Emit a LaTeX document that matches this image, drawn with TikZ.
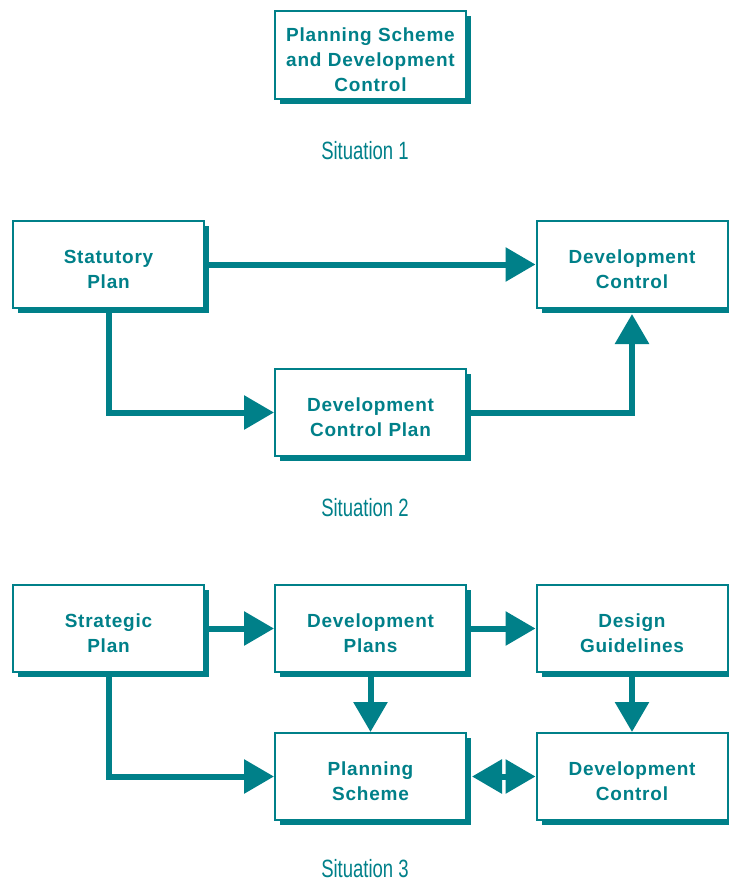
\documentclass[tikz,border=0pt]{standalone}
\usepackage{fontspec}
\usepackage{tikz}
\usetikzlibrary{arrows.meta,shadows}
\newfontfamily\boxfont[LetterSpace=4]{Liberation Sans}
\newfontfamily\sitfont[FakeStretch=0.74]{Liberation Sans}
\definecolor{plteal}{RGB}{0,128,137}
\tikzstyle{box}=[draw=plteal,line width=2pt,fill=white,minimum width=191pt,minimum height=87pt,inner sep=0pt,text width=187pt,align=center,text=plteal,font=\boxfont\bfseries\fontsize{19}{25}\selectfont,execute at begin node={\rule{0pt}{23pt}},drop shadow={shadow xshift=5pt,shadow yshift=-5pt,fill=plteal,opacity=1}]
\tikzstyle{situation}=[text=plteal,font=\sitfont\fontsize{25}{28}\selectfont,inner sep=0pt]
\tikzstyle{flow}=[draw=plteal,line width=6pt,-{Triangle[length=30pt,width=33pt]}]
\tikzstyle{bothways}=[draw=plteal,line width=6pt,{Triangle[length=30pt,width=33pt]}-{Triangle[length=30pt,width=33pt]}]

\begin{document}
\begin{tikzpicture}[x=1pt,y=-1pt]
\useasboundingbox (0,0) rectangle (728,883);
% situation 1
\node[box] (ps1) at (370.5,55) {Planning Scheme\\and Development\\Control};
\node[situation] (sit1) at (365,151) {Situation 1};
% situation 2
\node[box] (sp) at (108.5,264.5) {Statutory\\Plan};
\node[box] (dc2) at (632,264.5) {Development\\Control};
\node[box] (dcp) at (370.5,412.5) {Development\\Control Plan};
\node[situation] (sit2) at (365,508) {Situation 2};
\draw[flow] (sp.east) -- (dc2.west);
\draw[flow,line join=miter] (sp.south) |- (dcp.west);
\draw[flow,line join=miter] (dcp.east) -| ([yshift=-5pt]dc2.south);
% situation 3
\node[box] (stp) at (108.5,628.5) {Strategic\\Plan};
\node[box] (dp) at (370.5,628.5) {Development\\Plans};
\node[box] (dg) at (632,628.5) {Design\\Guidelines};
\node[box] (ps3) at (370.5,776.5) {Planning\\Scheme};
\node[box] (dc3) at (632,776.5) {Development\\Control};
\node[situation] (sit3) at (365,869) {Situation 3};
\draw[flow] (stp.east) -- (dp.west);
\draw[flow] (dp.east) -- (dg.west);
\draw[flow] (dp.south) -- (ps3.north);
\draw[flow] (dg.south) -- (dc3.north);
\draw[flow,line join=miter] (stp.south) |- (ps3.west);
\draw[bothways] ([xshift=5pt]ps3.east) -- (dc3.west);
\end{tikzpicture}
\end{document}
